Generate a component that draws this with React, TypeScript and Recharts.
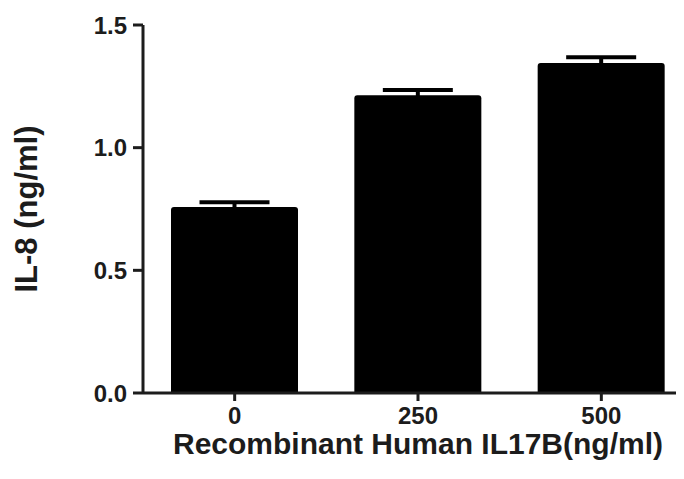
import React from "react";
import { BarChart, Bar, XAxis, YAxis, ErrorBar, Label } from "recharts";

const doses = ["0", "250", "500"];
const il8 = [0.758, 1.214, 1.345];
const sem = [0.02, 0.021, 0.024];
const yTicks = [0, 0.5, 1.0, 1.5];

const data = doses.map((d, i) => ({ dose: d, value: il8[i], err: sem[i] }));

const font = "'Liberation Sans', Arial, sans-serif";
const ink = "#1c1c1c";

export default function App() {
    return (
        <div style={{ width: 676, overflow: "hidden" }}>
            <BarChart
                width={700}
                height={471}
                data={data}
                margin={{ top: 17, right: 15, bottom: 26, left: 0 }}
                barSize={127}
            >
                <XAxis
                    dataKey="dose"
                    height={60}
                    stroke={ink}
                    strokeWidth={3}
                    tickSize={8}
                    tickMargin={6}
                    tick={{ fill: ink, fontSize: 24, fontWeight: "bold", fontFamily: font }}
                >
                    <Label
                        value="Recombinant Human IL17B(ng/ml)"
                        position="insideBottom"
                        offset={-1}
                        style={{ fill: ink, fontSize: 30, fontWeight: "bold", fontFamily: font }}
                    />
                </XAxis>
                <YAxis
                    width={135}
                    domain={[0, 1.5]}
                    ticks={yTicks}
                    tickFormatter={(v: number) => v.toFixed(1)}
                    stroke={ink}
                    strokeWidth={3}
                    tickSize={10}
                    tickMargin={6}
                    tick={{ fill: ink, fontSize: 24, fontWeight: "bold", fontFamily: font }}
                >
                    <Label
                        value="IL-8 (ng/ml)"
                        angle={-90}
                        position="insideLeft"
                        offset={18}
                        style={{ textAnchor: "middle", fill: ink, fontSize: 31, fontWeight: "bold", fontFamily: font }}
                    />
                </YAxis>
                <Bar dataKey="value" fill="#000" radius={[3, 3, 0, 0]} isAnimationActive={false}>
                    <ErrorBar dataKey="err" width={35} stroke="#000" strokeWidth={4} isAnimationActive={false} />
                </Bar>
            </BarChart>
        </div>
    );
}
